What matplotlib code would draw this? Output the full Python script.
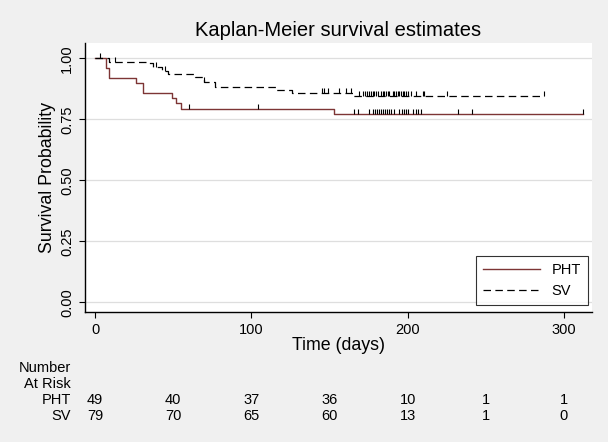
import matplotlib.pyplot as plt
import matplotlib.transforms as mtransforms
import numpy as np

plt.rcParams['font.family'] = ['Liberation Sans', 'DejaVu Sans']

# Kaplan-Meier step data
pht_time = [0, 7, 9, 26, 31, 49, 52, 55, 153]
pht_surv = [1.0, 0.959, 0.918, 0.898, 0.857, 0.837, 0.816, 0.794, 0.771]
pht_end = 312
pht_cens = [60, 104, 166, 168, 175, 178, 179.3, 180.6, 181.9, 183.2, 184.5, 185.8,
            187.1, 188.4, 189.7, 191, 194.6, 196.2, 197.5, 198.8, 200, 203.6,
            205.2, 206.5, 208.6, 232.4, 241.4, 312]

sv_time = [0, 9, 34, 37, 43, 47, 64, 70, 77, 116, 126, 165]
sv_surv = [1.0, 0.987, 0.979, 0.966, 0.949, 0.936, 0.922, 0.903, 0.884, 0.870, 0.857, 0.845]
sv_end = 287.5
sv_cens = [3, 13, 39, 45, 70, 145, 146.5, 149.3, 156, 160.5, 164, 169, 171.7, 172.7,
           173.8, 175.5, 176.6, 177.7, 178.7, 179.8, 180.9, 183, 184.1, 185.1, 186.2,
           187.3, 188.3, 190.5, 191.5, 192.6, 193.7, 194.7, 195.8, 196.9, 197.9, 199,
           200.1, 202.2, 205.4, 209.7, 210.7, 225, 287.5]

risk_times = [0, 50, 100, 150, 200, 250, 300]
risk_pht = [49, 40, 37, 36, 10, 1, 1]
risk_sv = [79, 70, 65, 60, 13, 1, 0]

fig = plt.figure(figsize=(6.08, 4.42), dpi=100, facecolor='#f0f0f0')
ax = fig.add_axes([85 / 608, 1 - 312 / 442, (592 - 85) / 608, (312 - 43) / 442])
ax.set_facecolor('white')

maroon = '#7d3535'


def surv_at(times, surv, t):
    i = np.searchsorted(times, t, side='right') - 1
    return np.asarray(surv)[i]


# curves
ax.step(pht_time + [pht_end], pht_surv + [pht_surv[-1]], where='post',
        color=maroon, lw=1.0, label='PHT', zorder=3)
ax.step(sv_time + [sv_end], sv_surv + [sv_surv[-1]], where='post',
        color='black', lw=0.9, dashes=(6, 3.5), label='SV', zorder=3)

# censoring ticks
ax.plot(pht_cens, surv_at(pht_time, pht_surv, pht_cens), ls='none', marker=2,
        ms=3.4, mew=0.8, color='black', zorder=4)
ax.plot(sv_cens, surv_at(sv_time, sv_surv, sv_cens), ls='none', marker=2,
        ms=3.4, mew=0.8, color='black', zorder=4)

ax.set_xlim(-6.4, 318)
ax.set_ylim(-0.04, 1.063)
ax.set_xticks([0, 100, 200, 300])
ax.set_yticks([0, 0.25, 0.5, 0.75, 1.0])
ax.set_yticklabels(['0.00', '0.25', '0.50', '0.75', '1.00'], rotation=90, va='center')
ax.tick_params(direction='out', length=4, width=0.8, labelsize=10.5, color='black')
ax.tick_params(axis='y', pad=4)
ax.tick_params(axis='x', pad=4)
ax.grid(axis='y', color='#dedede', lw=0.9)
ax.set_axisbelow(True)
for s in ['top', 'right']:
    ax.spines[s].set_visible(False)
for s in ['left', 'bottom']:
    ax.spines[s].set_linewidth(1.0)

ax.set_title('Kaplan-Meier survival estimates', fontsize=14.5, pad=5)
ax.set_xlabel('Time (days)', fontsize=12.8, labelpad=0)
ax.set_ylabel('Survival Probability', fontsize=12.8, labelpad=3)

leg = ax.legend(loc='lower right', bbox_to_anchor=(588 / 608, 1 - 305 / 442),
                bbox_transform=fig.transFigure, fontsize=10.5, frameon=True,
                fancybox=False, edgecolor='black', handlelength=3.9,
                borderpad=0.5, labelspacing=0.45, handletextpad=0.8, borderaxespad=0)
leg.get_frame().set_linewidth(0.8)

# number at risk table
trans = mtransforms.blended_transform_factory(ax.transData, fig.transFigure)
fig.text(71 / 608, 1 - 368 / 442, 'Number', ha='right', va='center', fontsize=10.5)
fig.text(71 / 608, 1 - 384 / 442, 'At Risk', ha='right', va='center', fontsize=10.5)
fig.text(71 / 608, 1 - 400 / 442, 'PHT', ha='right', va='center', fontsize=10.5)
fig.text(71 / 608, 1 - 416 / 442, 'SV', ha='right', va='center', fontsize=10.5)
for t, a, b in zip(risk_times, risk_pht, risk_sv):
    ax.text(t, 1 - 400 / 442, str(a), transform=trans, ha='center', va='center', fontsize=10.5)
    ax.text(t, 1 - 416 / 442, str(b), transform=trans, ha='center', va='center', fontsize=10.5)

fig.savefig('out.png', dpi=100, facecolor=fig.get_facecolor())
